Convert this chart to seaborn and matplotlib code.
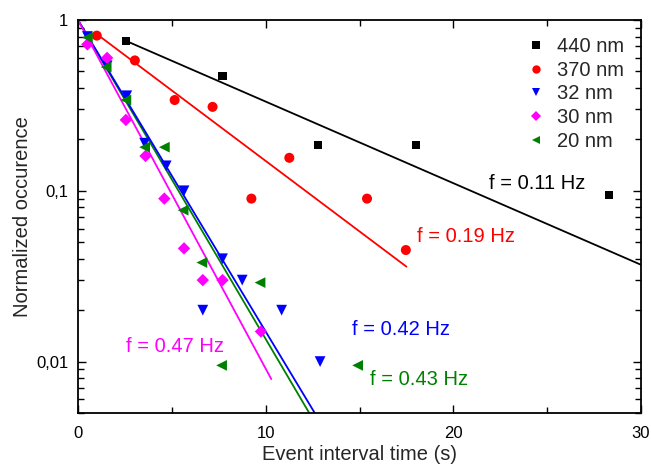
import numpy as np
import pandas as pd
import matplotlib
matplotlib.use("Agg")
import matplotlib.pyplot as plt
from matplotlib.ticker import FuncFormatter, MultipleLocator, LogLocator
import seaborn as sns

# Measured event-interval histograms (normalized occurrence) per pore size
t_440 = [2.55, 7.7, 12.8, 18.0, 28.3]
y_440 = [0.75, 0.47, 0.186, 0.186, 0.094]

t_370 = [1.0, 3.03, 5.15, 7.17, 9.24, 11.26, 15.4, 17.47]
y_370 = [0.81, 0.58, 0.34, 0.31, 0.09, 0.156, 0.09, 0.045]

t_32 = [0.5, 1.55, 2.6, 3.55, 4.7, 5.65, 7.7, 8.75, 6.65, 10.85, 12.9]
y_32 = [0.80, 0.54, 0.36, 0.19, 0.14, 0.10, 0.04, 0.03, 0.02, 0.02, 0.01]

t_30 = [0.5, 1.55, 2.55, 3.6, 4.6, 5.65, 6.65, 7.7, 9.75]
y_30 = [0.72, 0.60, 0.26, 0.16, 0.09, 0.046, 0.03, 0.03, 0.015]

t_20 = [0.5, 1.5, 2.55, 3.55, 4.6, 5.6, 6.6, 9.7, 7.65, 14.9]
y_20 = [0.79, 0.53, 0.34, 0.18, 0.18, 0.077, 0.038, 0.029, 0.0095, 0.0095]

labels = ["440 nm", "370 nm", "32 nm", "30 nm", "20 nm"]
freqs = [0.11, 0.19, 0.42, 0.47, 0.43]          # fitted rates (Hz)
fit_ranges = [(2.5, 30), (1.0, 17.5), (0, 12.7), (0, 10.3), (0, 12.4)]

colors = ["#000000", "#ff0000", "#0000ff", "#ff00ff", "#008000"]
markers = ["s", "o", "v", "D", "<"]
sizes = [34, 52, 60, 40, 60]

sns.set_theme(style="ticks")
plt.rcParams["font.family"] = ["Liberation Sans", "DejaVu Sans"]

fig = plt.figure(figsize=(6.51, 4.66), dpi=100)
ax = fig.add_axes([78 / 651, 1 - 413 / 466, (641 - 78) / 651, (413 - 20) / 466])

series_t = [t_440, t_370, t_32, t_30, t_20]
series_y = [y_440, y_370, y_32, y_30, y_20]

# exponential fits y = exp(-f t)
line_order = [0, 1, 4, 2, 3]
for i in line_order:
    t0, t1 = fit_ranges[i]
    tt = np.linspace(t0, t1, 200)
    sns.lineplot(x=tt, y=np.exp(-freqs[i] * tt), color=colors[i], lw=1.3,
                 ax=ax, legend=False)

handles = []
for i in range(5):
    df = pd.DataFrame({"t": series_t[i], "y": series_y[i]})
    sns.scatterplot(data=df, x="t", y="y", color=colors[i], marker=markers[i],
                    s=sizes[i], edgecolor="none", ax=ax, zorder=3)
    handles.append(plt.Line2D([], [], ls="none", marker=markers[i], color=colors[i],
                              markersize=5.5 if markers[i] != "o" else 6,
                              markeredgewidth=0))

ax.set_yscale("log")
ax.set_xlim(0, 30)
ax.set_ylim(0.005, 1)

ax.xaxis.set_major_locator(MultipleLocator(10))
ax.xaxis.set_minor_locator(MultipleLocator(5))
ax.yaxis.set_major_locator(LogLocator(base=10, numticks=10))
ax.yaxis.set_minor_locator(LogLocator(base=10, subs=np.arange(2, 10), numticks=10))
ax.yaxis.set_major_formatter(FuncFormatter(
    lambda v, p: {1.0: "1", 0.1: "0,1", 0.01: "0,01"}.get(round(v, 6), "")))
ax.yaxis.set_minor_formatter(FuncFormatter(lambda v, p: ""))

ax.tick_params(which="both", direction="in", top=True, right=True,
               labelsize=12, colors="#000000", width=1.0)
ax.tick_params(which="major", length=6)
ax.tick_params(which="minor", length=4)
ax.tick_params(axis="x", which="both", pad=9)
ax.tick_params(axis="y", which="both", pad=7)
ax.tick_params(axis="x", which="minor", length=4)
for sp in ax.spines.values():
    sp.set_linewidth(1.3)
    sp.set_color("#000000")

ax.set_xlabel("Event interval time (s)", fontsize=14.5, labelpad=3)
ax.set_ylabel("Normalized occurence", fontsize=14.5, labelpad=3)

notes = [(21.9, 0.111, "f = 0.11 Hz", colors[0]),
         (18.06, 0.054, "f = 0.19 Hz", colors[1]),
         (14.6, 0.0154, "f = 0.42 Hz", colors[2]),
         (2.56, 0.0122, "f = 0.47 Hz", colors[3]),
         (15.56, 0.0079, "f = 0.43 Hz", colors[4])]
for x, y, s, c in notes:
    ax.text(x, y, s, color=c, fontsize=14.5, va="center", ha="left")

ax.legend(handles, labels, loc="upper right", frameon=False, fontsize=14.5,
          handletextpad=0.55, labelspacing=0.23, borderaxespad=0.45,
          handlelength=1.0)

fig.savefig("out.png", dpi=100)
